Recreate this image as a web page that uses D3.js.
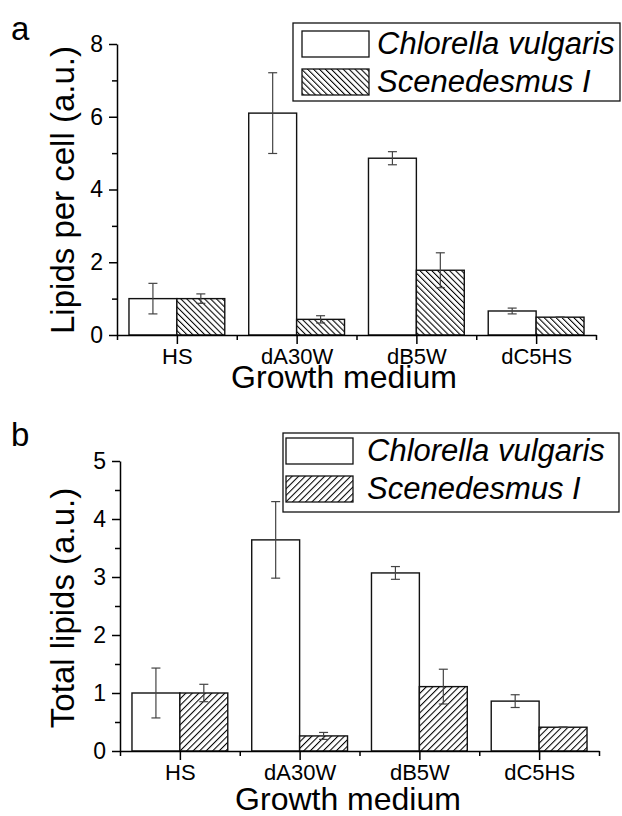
<!DOCTYPE html>
<html>
<head>
<meta charset="utf-8">
<script src="https://cdn.jsdelivr.net/npm/d3@7"></script>
<style>
  html, body { margin: 0; padding: 0; background: #fff; }
  svg { display: block; font-family: "Liberation Sans", Arial, sans-serif; }
</style>
</head>
<body>
<svg id="chart" width="622" height="816"></svg>
<script>
// ---------- data ----------
const categories = ["HS", "dA30W", "dB5W", "dC5HS"];
const seriesNames = ["Chlorella vulgaris", "Scenedesmus I"];

// panel a: lipids per cell (a.u.)
const perCellChlorella = [1.0, 6.1, 4.86, 0.66];
const perCellChlorellaErr = [0.42, 1.11, 0.18, 0.08];
const perCellScenedesmus = [1.0, 0.43, 1.78, 0.49];
const perCellScenedesmusErr = [0.13, 0.10, 0.48, 0.0];
const perCellTicks = [0, 2, 4, 6, 8];
const perCellMinorTicks = [1, 3, 5, 7];

// panel b: total lipids (a.u.)
const totalChlorella = [1.0, 3.64, 3.07, 0.86];
const totalChlorellaErr = [0.43, 0.66, 0.11, 0.11];
const totalScenedesmus = [1.0, 0.26, 1.11, 0.41];
const totalScenedesmusErr = [0.15, 0.06, 0.30, 0.005];
const totalTicks = [0, 1, 2, 3, 4, 5];
const totalMinorTicks = [0.5, 1.5, 2.5, 3.5, 4.5];

const FONT = "'Liberation Sans', Arial, sans-serif";
const svg = d3.select("#chart");
const defs = svg.append("defs");

function hatch(id, dir, size) {
  const p = defs.append("pattern")
    .attr("id", id)
    .attr("patternUnits", "userSpaceOnUse")
    .attr("width", size).attr("height", size)
    .attr("patternTransform", `rotate(${dir})`);
  p.append("rect").attr("width", size).attr("height", size).attr("fill", "#fff");
  p.append("line").attr("x1", 0.5).attr("y1", 0).attr("x2", 0.5).attr("y2", size)
    .attr("stroke", "#000").attr("stroke-width", 1.1);
}
hatch("hatchBack", -45, 4.2);   // "\\\" lines
hatch("hatchFwd", 45, 4.6);     // "///" lines

function panel(cfg) {
  const g = svg.append("g");
  const x0 = d3.scaleBand().domain(categories).range([cfg.x0, cfg.x1]).padding(0);
  const x1 = d3.scaleBand().domain(seriesNames).range([0, x0.bandwidth()])
    .paddingInner(0).paddingOuter(0.25);
  const y = d3.scaleLinear().domain([0, cfg.yMax]).range([cfg.yBase, cfg.yTop]);

  const series = [
    { name: seriesNames[0], vals: cfg.a, errs: cfg.aErr, fill: "#fff" },
    { name: seriesNames[1], vals: cfg.b, errs: cfg.bErr, fill: `url(#${cfg.pattern})` }
  ];

  // bars
  series.forEach(s => {
    g.selectAll(null).data(categories).enter().append("rect")
      .attr("x", c => x0(c) + x1(s.name))
      .attr("y", (c, i) => y(s.vals[i]))
      .attr("width", x1.bandwidth())
      .attr("height", (c, i) => y(0) - y(s.vals[i]))
      .attr("fill", s.fill)
      .attr("stroke", "#111").attr("stroke-width", 1.4);
  });

  // error bars
  series.forEach(s => {
    const eg = g.selectAll(null).data(categories).enter().append("g")
      .attr("stroke", "#444").attr("stroke-width", 1.2);
    const cx = c => x0(c) + x1(s.name) + x1.bandwidth() / 2;
    eg.append("line")
      .attr("x1", cx).attr("x2", cx)
      .attr("y1", (c, i) => y(s.vals[i] + s.errs[i]))
      .attr("y2", (c, i) => y(s.vals[i] - s.errs[i]));
    [1, -1].forEach(sg => {
      eg.append("line")
        .attr("x1", c => cx(c) - 4.5).attr("x2", c => cx(c) + 4.5)
        .attr("y1", (c, i) => y(s.vals[i] + sg * s.errs[i]))
        .attr("y2", (c, i) => y(s.vals[i] + sg * s.errs[i]));
    });
  });

  // y axis (major + minor)
  const yAxis = g.append("g").attr("transform", `translate(${cfg.x0},0)`)
    .call(d3.axisLeft(y).tickValues(cfg.ticks).tickSize(8).tickSizeOuter(0).tickPadding(6)
      .tickFormat(d3.format("d")));
  g.append("g").attr("transform", `translate(${cfg.x0},0)`)
    .call(d3.axisLeft(y).tickValues(cfg.minor).tickSize(5).tickFormat(""))
    .call(a => a.select(".domain").remove());
  yAxis.attr("font-family", FONT).attr("font-size", 23);
  yAxis.selectAll("text").attr("fill", "#000");

  // x axis: ticks at category centers and boundaries
  const xl = d3.scaleLinear().domain([cfg.x0, cfg.x1]).range([cfg.x0, cfg.x1]);
  const centers = categories.map(c => x0(c) + x0.bandwidth() / 2);
  const bounds = categories.map(c => x0(c)).concat([cfg.x1]);
  const xAxis = g.append("g").attr("transform", `translate(0,${cfg.yBase})`)
    .call(d3.axisBottom(xl).tickValues(centers).tickSize(9).tickSizeOuter(0).tickPadding(4)
      .tickFormat((d, i) => categories[i]));
  g.append("g").attr("transform", `translate(0,${cfg.yBase})`)
    .call(d3.axisBottom(xl).tickValues(bounds).tickSize(5).tickFormat(""))
    .call(a => a.select(".domain").remove());
  xAxis.attr("font-family", FONT).attr("font-size", 22);
  xAxis.selectAll("text").attr("fill", "#000");

  svg.selectAll(".domain").attr("stroke", "#000").attr("stroke-width", 1.5);
  svg.selectAll(".tick line").attr("stroke", "#000").attr("stroke-width", 1.5);

  // axis titles
  g.append("text")
    .attr("transform", `translate(${cfg.yTitleX},${cfg.yTitleY}) rotate(-90)`)
    .attr("text-anchor", "middle").attr("font-size", 33).text(cfg.yTitle);
  g.append("text")
    .attr("x", cfg.xTitleX).attr("y", cfg.xTitleY)
    .attr("text-anchor", "middle").attr("font-size", 32).text("Growth medium");

  // panel letter
  g.append("text").attr("x", cfg.letterX).attr("y", cfg.letterY)
    .attr("font-size", 33).text(cfg.letter);

  // legend
  const L = cfg.legend;
  g.append("rect").attr("x", L.x).attr("y", L.y).attr("width", L.w).attr("height", L.h)
    .attr("fill", "#fff").attr("stroke", "#111").attr("stroke-width", 1.3);
  series.forEach((s, i) => {
    g.append("rect").attr("x", L.sx).attr("y", L.sy + i * L.step)
      .attr("width", L.sw).attr("height", L.sh)
      .attr("fill", s.fill).attr("stroke", "#111").attr("stroke-width", 1.3);
    g.append("text").attr("x", L.tx).attr("y", L.sy + i * L.step + L.sh - 3)
      .attr("font-size", 31).attr("font-style", "italic").text(s.name);
  });
}

panel({
  x0: 117, x1: 596, yBase: 335, yTop: 44, yMax: 8,
  ticks: perCellTicks, minor: perCellMinorTicks,
  a: perCellChlorella, aErr: perCellChlorellaErr,
  b: perCellScenedesmus, bErr: perCellScenedesmusErr,
  pattern: "hatchBack",
  yTitle: "Lipids per cell (a.u.)", yTitleX: 74, yTitleY: 190,
  xTitleX: 344, xTitleY: 388,
  letter: "a", letterX: 11, letterY: 40,
  legend: { x: 293, y: 23, w: 327, h: 78, sx: 302, sy: 31, sw: 67, sh: 26, step: 38, tx: 377 }
});

panel({
  x0: 120, x1: 599, yBase: 751, yTop: 461, yMax: 5,
  ticks: totalTicks, minor: totalMinorTicks,
  a: totalChlorella, aErr: totalChlorellaErr,
  b: totalScenedesmus, bErr: totalScenedesmusErr,
  pattern: "hatchFwd",
  yTitle: "Total lipids (a.u.)", yTitleX: 74, yTitleY: 608,
  xTitleX: 348, xTitleY: 810,
  letter: "b", letterX: 11, letterY: 446,
  legend: { x: 283, y: 433, w: 336, h: 79, sx: 286, sy: 438, sw: 67, sh: 26, step: 38, tx: 367 }
});
</script>
</body>
</html>
